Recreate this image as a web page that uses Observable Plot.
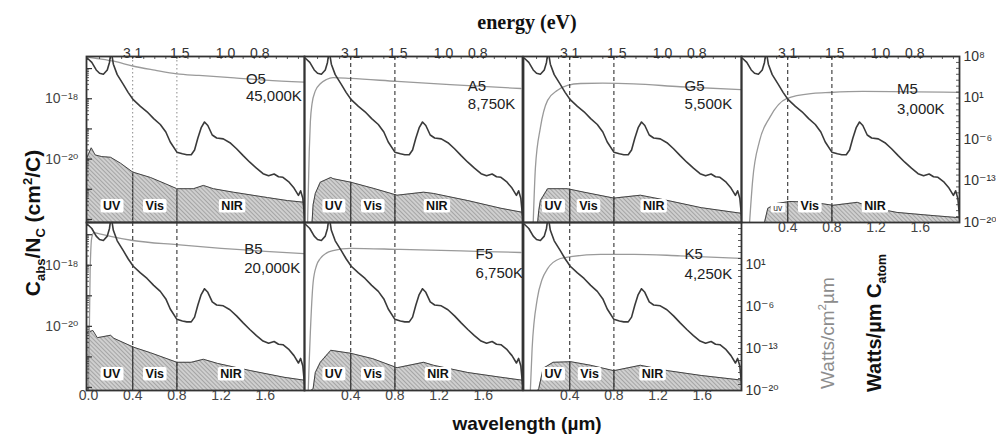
<!DOCTYPE html>
<html>
<head>
<meta charset="utf-8">
<script src="https://cdn.jsdelivr.net/npm/d3@7"></script>
<script src="https://cdn.jsdelivr.net/npm/@observablehq/plot@0.6"></script>
<style>
  body { margin: 0; background: #fff; }
  #chart { position: relative; width: 996px; height: 434px; overflow: hidden; background: #fff;
           font-family: "Liberation Sans", "DejaVu Sans", Arial, sans-serif; }
  .ttl { position: absolute; white-space: nowrap; transform: translate(-50%, -50%); line-height: 1; }
  .rot { transform: translate(-50%, -50%) rotate(-90deg); }
  .ttl sub, .ttl sup { font-size: 0.62em; line-height: 0; }
</style>
</head>
<body>
<div id="chart">
  <svg width="0" height="0" style="position:absolute">
    <defs>
      <pattern id="hatch" patternUnits="userSpaceOnUse" width="3" height="3" patternTransform="rotate(-45)">
        <rect width="3" height="3" fill="#cfcfcf"></rect>
        <line x1="0" y1="0" x2="0" y2="3" stroke="#7c7c7c" stroke-width="1"></line>
      </pattern>
    </defs>
  </svg>
</div>
<script>
// ---------------- data ----------------
// absorption cross section per carbon atom, C_abs/N_C (cm^2/C) vs wavelength (µm)
const crossSection = [
  [-0.01,2.2e-17],[0.03,1.6e-17],[0.07,9.0e-18],[0.10,7.0e-18],[0.135,6.5e-18],[0.17,9.0e-18],
  [0.19,1.6e-17],[0.205,4.0e-17],[0.225,1.4e-17],[0.26,6.3e-18],[0.315,3.0e-18],[0.36,1.6e-18],
  [0.405,9.3e-19],[0.47,5.6e-19],[0.53,3.7e-19],[0.59,2.2e-19],[0.65,1.4e-19],[0.70,7.9e-20],
  [0.74,3.7e-20],[0.80,1.7e-20],[0.85,1.5e-20],[0.89,1.4e-20],[0.93,1.4e-20],[0.96,2.0e-20],
  [0.99,5.0e-20],[1.02,1.1e-19],[1.05,1.7e-19],[1.08,1.3e-19],[1.12,6.3e-20],[1.16,5.0e-20],
  [1.22,4.7e-20],[1.28,3.5e-20],[1.34,2.2e-20],[1.40,1.3e-20],[1.46,7.9e-21],[1.52,5.0e-21],
  [1.58,3.3e-21],[1.63,2.8e-21],[1.68,3.2e-21],[1.72,2.6e-21],[1.76,2.5e-21],[1.81,1.8e-21],
  [1.86,1.1e-21],[1.90,6.3e-22],[1.92,8.9e-22],[1.94,5.0e-22],[1.955,1.3e-22]
];

// stellar spectra, Watts/cm^2 µm
const planckO5 = [[-0.02,8.0e7],[0.1,4.0e7],[0.23,1.6e7],[0.4,2.5e6],[0.6,5.0e5],[0.8,1.2e5],[1.0,6.3e4],[1.32,2.5e4],[1.6,1.0e4],[1.96,4.5e3]];
const planckB5 = [[0.0,1e-20],[0.015,1.0],[0.03,3.2e5],[0.05,2.0e6],[0.1,1.3e6],[0.2,5.0e5],[0.4,1.0e5],[0.8,2.0e4],[1.2,5.0e3],[1.6,1.6e3],[1.96,6.3e2]];
const planckA5 = [[0.01,1e-20],[0.025,1e-8],[0.035,1e-3],[0.05,1.0],[0.08,1.6e2],[0.125,2.5e3],[0.18,1.3e4],[0.24,2.8e4],[0.4,2.0e4],[0.82,6.3e3],[1.3,1.8e3],[1.94,4.0e2]];
const planckF5 = [[0.016,1e-20],[0.025,1e-15],[0.035,5e-11],[0.06,1e-2],[0.09,6.3],[0.125,1.0e2],[0.18,7.9e2],[0.24,2.0e3],[0.4,5.0e3],[0.85,3.2e3],[1.4,1.8e3],[1.94,1.0e3]];
const planckG5 = [[0.07,1e-20],[0.09,2e-11],[0.135,1e-4],[0.2,4.0],[0.29,2.0e2],[0.38,1.3e3],[0.5,2.8e3],[0.7,3.2e3],[0.98,2.5e3],[1.4,7.9e2],[1.95,2.5e2]];
const planckK5 = [[0.044,1e-20],[0.06,1e-13],[0.107,2e-5],[0.15,3.2e-2],[0.2,2.0],[0.315,1.0e2],[0.41,2.0e2],[0.68,5.0e2],[0.98,5.0e2],[1.4,2.8e2],[1.97,1.0e2]];
const planckM5 = [[0.055,1e-20],[0.083,1.3e-13],[0.146,6.3e-7],[0.237,5.0e-3],[0.39,7.9],[0.63,5.8e1],[0.78,8.5e1],[1.08,1.3e2],[1.96,8.5e1]];

// absorbed power per carbon atom, Watts/µm C_atom (hatched areas)
const areaO5 = [[-0.02,5.0e-10],[0.025,4.0e-8],[0.06,2.5e-9],[0.12,1.3e-9],[0.2,1.0e-9],[0.29,1.0e-10],[0.4,3.2e-12],[0.56,4.0e-13],[0.7,3.2e-14],[0.8,5.0e-15],[0.95,5.0e-15],[1.04,1.8e-14],[1.13,5.0e-15],[1.31,1.3e-15],[1.62,1.6e-16],[1.8,5.0e-17],[1.96,2.5e-17]];
const areaB5 = [[-0.01,5.0e-11],[0.04,1.0e-10],[0.08,6.3e-12],[0.2,1.6e-11],[0.23,5.0e-12],[0.41,1.6e-13],[0.56,2.0e-14],[0.8,5.0e-16],[0.93,5.0e-16],[1.04,1.6e-15],[1.17,3.2e-16],[1.47,2.0e-17],[1.77,1.6e-18],[1.96,5.0e-19]];
const areaA5 = [[0.05,1e-20],[0.06,1.0e-17],[0.08,7.9e-16],[0.125,6.3e-14],[0.22,4.0e-13],[0.24,2.5e-13],[0.4,6.3e-14],[0.61,5.5e-15],[0.82,4.0e-16],[1.06,1.3e-15],[1.15,7.9e-16],[1.46,5.0e-17],[1.76,2.5e-18],[1.96,5.0e-19]];
const areaF5 = [[0.04,1e-20],[0.06,2.0e-20],[0.08,1.0e-17],[0.125,5.0e-16],[0.22,5.0e-14],[0.4,1.6e-14],[0.6,2.0e-15],[0.82,6.3e-17],[1.06,5.0e-16],[1.15,1.6e-16],[1.46,1.0e-17],[1.76,1.6e-18],[1.96,5.0e-19]];
const areaG5 = [[0.11,1e-20],[0.12,1.0e-18],[0.135,5.0e-17],[0.2,5.0e-15],[0.38,5.0e-15],[0.53,1.3e-15],[0.8,1.3e-16],[1.04,4.0e-16],[1.29,5.0e-17],[1.59,3.2e-18],[1.97,3.2e-19]];
const areaK5 = [[0.11,1e-20],[0.12,2.0e-20],[0.16,5.0e-17],[0.25,5.0e-16],[0.41,6.3e-16],[0.59,1.6e-16],[0.8,2.0e-17],[1.04,1.6e-16],[1.29,2.0e-17],[1.59,3.2e-18],[1.97,5.0e-19]];
const areaM5 = [[0.19,1e-20],[0.22,2.5e-18],[0.3,1.6e-17],[0.42,3.5e-17],[0.63,2.5e-17],[0.81,7.9e-18],[1.03,2.5e-17],[1.17,3.2e-18],[1.39,5.0e-19],[1.69,1.6e-19],[1.96,6.3e-20]];

const starTypes = ["O5", "A5", "G5", "M5", "B5", "F5", "K5"];
const starTemps = ["45,000K", "8,750K", "5,500K", "3,000K", "20,000K", "6,750K", "4,250K"];
const regionNames = ["UV", "Vis", "NIR"];
const regionBounds = [0.4, 0.8];             // µm
const energyTicks = [3.1, 1.5, 1.0, 0.8];    // eV
const wavelengthTicks = [0.0, 0.4, 0.8, 1.2, 1.6];
const leftTicks = [1e-18, 1e-20];
const rightTicks = [1e8, 1e1, 1e-6, 1e-13, 1e-20];

// ---------------- layout ----------------
const FONT = '"Liberation Sans", "DejaVu Sans", Arial, sans-serif';
const TICK_FS = 14;
const W = 218;
const M = {top: 30, right: 60, bottom: 30, left: 60};
const colLeft = [86, 304, 523, 741];
const rowTop = [56, 222];
const rowH = [166, 168];
const xDomain = [-0.018, 1.955];
const csDomain = [Math.pow(10, -22.1), Math.pow(10, -16.6)];
const wDomain = [1e-20, 1e8];

const planck = {O5: planckO5, A5: planckA5, G5: planckG5, M5: planckM5, B5: planckB5, F5: planckF5, K5: planckK5};
const area = {O5: areaO5, A5: areaA5, G5: areaG5, M5: areaM5, B5: areaB5, F5: areaF5, K5: areaK5};
const layout = {
  O5: {row: 0, col: 0, lx: 1.425, ldy: [17, 34], rx: [0.21, 0.6, 1.3], dotted: true},
  A5: {row: 0, col: 1, lx: 1.46, ldy: [24, 42], rx: [0.245, 0.6, 1.18]},
  G5: {row: 0, col: 2, lx: 1.44, ldy: [24, 42], rx: [0.25, 0.57, 1.16]},
  M5: {row: 0, col: 3, lx: 1.39, ldy: [27, 47], rx: [0.31, 0.6, 1.19]},
  B5: {row: 1, col: 0, lx: 1.41, ldy: [21, 40], rx: [0.21, 0.6, 1.29]},
  F5: {row: 1, col: 1, lx: 1.53, ldy: [26, 45], rx: [0.245, 0.6, 1.19]},
  K5: {row: 1, col: 2, lx: 1.44, ldy: [26, 46], rx: [0.25, 0.58, 1.15]}
};

const SUP = {"-": "\u207B", "0": "\u2070", "1": "\u00B9", "2": "\u00B2", "3": "\u00B3", "4": "\u2074",
             "5": "\u2075", "6": "\u2076", "7": "\u2077", "8": "\u2078", "9": "\u2079"};
const pow10 = v => "10" + String(Math.round(Math.log10(v))).split("").map(c => SUP[c]).join("");

function topAt(arr, x) {
  const i = d3.bisector(d => d[0]).left(arr, x);
  const a = arr[Math.max(0, i - 1)], b = arr[Math.min(arr.length - 1, i)];
  if (a === b) return a[1];
  const t = (x - a[0]) / (b[0] - a[0]);
  return Math.exp(Math.log(a[1]) * (1 - t) + Math.log(b[1]) * t);
}

const chart = document.getElementById("chart");

function makePlot(L, yDomain, marks) {
  const svg = Plot.plot({
    width: W + M.left + M.right,
    height: rowH[L.row] + M.top + M.bottom,
    marginTop: M.top, marginRight: M.right, marginBottom: M.bottom, marginLeft: M.left,
    x: {domain: xDomain, axis: null},
    y: {type: "log", domain: yDomain, axis: null},
    style: {background: "transparent", overflow: "visible", fontFamily: FONT, fontSize: "12px", color: "#222"},
    marks
  });
  svg.style.position = "absolute";
  svg.style.left = (colLeft[L.col] - M.left) + "px";
  svg.style.top = (rowTop[L.row] - M.top) + "px";
  svg.style.maxWidth = "none";
  chart.appendChild(svg);
  return svg;
}

const leftMinor = d3.scaleLog().domain(csDomain).ticks();
const leftMajor = leftMinor.filter(v => Math.abs(Math.log10(v) - Math.round(Math.log10(v))) < 1e-9);
const rightDecades = d3.range(-20, 9).map(e => Math.pow(10, e));
const topMinor = d3.range(1, 20).map(i => i / 10);

starTypes.forEach((id, k) => {
  const L = layout[id];
  const H = rowH[L.row];
  const P = planck[id], A = area[id];

  // layer 1: right-axis quantities (spectrum and absorbed power)
  const wMarks = [
    Plot.areaY(A, {x: d => d[0], y1: 1e-20, y2: d => d[1], fill: "url(#hatch)", clip: true}),
    Plot.line(A, {x: d => d[0], y: d => d[1], stroke: "#444", strokeWidth: 1, clip: true}),
    Plot.ruleX(regionBounds, {x: d => d, y1: 1e-20, y2: d => topAt(A, d), stroke: "#333", strokeWidth: 1.2}),
    Plot.line(P, {x: d => d[0], y: d => d[1], stroke: "#9a9a9a", strokeWidth: 1.3, curve: "monotone-x", clip: true}),
    Plot.text([id], {x: L.lx, frameAnchor: "top", dy: L.ldy[0], text: d => d, textAnchor: "start", fontSize: 15, fill: "#222"}),
    Plot.text([starTemps[k]], {x: L.lx, frameAnchor: "top", dy: L.ldy[1], text: d => d, textAnchor: "start", fontSize: 15, fill: "#222"})
  ];
  const showRight = id === "M5" || id === "K5";
  if (showRight) {
    const rt = id === "K5" ? rightTicks.slice(1) : rightTicks;
    wMarks.push(Plot.tickY(rightDecades, {y: d => d, insetLeft: W - 3, stroke: "#333", strokeWidth: 0.8}));
    wMarks.push(Plot.text(rt, {y: d => d, frameAnchor: "right", dx: 4, textAnchor: "start", text: pow10, fontSize: TICK_FS, fill: "#333"}));
  }
  makePlot(L, wDomain, wMarks);

  // layer 2: region labels with white boxes
  const labels = regionNames.map((n, i) => ({name: (id === "M5" && i === 0) ? "uv" : n, x: L.rx[i], small: id === "M5" && i === 0}));
  const labSvg = makePlot(L, wDomain, [
    Plot.text(labels.filter(d => !d.small), {x: "x", text: "name", frameAnchor: "bottom", dy: -13, fontSize: 12.5, fontWeight: "bold", fill: "#111"}),
    Plot.text(labels.filter(d => d.small), {x: "x", text: "name", frameAnchor: "bottom", dy: -12, fontSize: 8.5, fill: "#333"})
  ]);
  labSvg.querySelectorAll("text").forEach(t => {
    const b = t.getBBox();
    const r = document.createElementNS("http://www.w3.org/2000/svg", "rect");
    r.setAttribute("x", b.x - 2.5);
    r.setAttribute("y", b.y + 0.5);
    r.setAttribute("width", b.width + 5);
    r.setAttribute("height", b.height - 0.5);
    r.setAttribute("rx", 2);
    r.setAttribute("fill", "white");
    if (t.getAttribute("transform")) r.setAttribute("transform", t.getAttribute("transform"));
    t.parentNode.insertBefore(r, t);
  });

  // layer 3: cross section, dashed guides, frame, axes
  const cMarks = [
    Plot.ruleX(regionBounds, L.dotted
      ? {x: d => d, stroke: "#8a8a8a", strokeWidth: 1, strokeDasharray: "1.5,2.5"}
      : {x: d => d, stroke: "#444", strokeWidth: 1.2, strokeDasharray: "4,3"}),
    Plot.line(crossSection, {x: d => d[0], y: d => d[1], stroke: "#3a3a3a", strokeWidth: 1.6, clip: true})
  ];
  if (L.col === 0) {
    cMarks.push(Plot.tickY(leftMinor, {y: d => d, insetRight: W - 3, stroke: "#333", strokeWidth: 0.8}));
    cMarks.push(Plot.tickY(leftMajor, {y: d => d, insetRight: W - 6, stroke: "#333", strokeWidth: 1.2}));
    cMarks.push(Plot.text(leftTicks, {y: d => d, frameAnchor: "left", dx: -8, textAnchor: "end", text: pow10, fontSize: TICK_FS, fill: "#444"}));
  }
  if (L.row === 0) {
    cMarks.push(Plot.tickX(topMinor, {x: d => d, insetBottom: H - 3, stroke: "#333", strokeWidth: 0.8}));
    cMarks.push(Plot.text(energyTicks, {x: e => 1.2398 / e, text: e => e.toFixed(1), frameAnchor: "top", dy: -8, fontSize: TICK_FS, fill: "#333"}));
  }
  if (L.row === 1 || id === "M5") {
    const wt = L.col === 0 ? wavelengthTicks : wavelengthTicks.slice(1);
    cMarks.push(Plot.text(wt, {x: d => d, text: d => d.toFixed(1), frameAnchor: "bottom", dy: 9, fontSize: TICK_FS, fill: "#444"}));
  }
  cMarks.push(Plot.frame({stroke: "#333", strokeWidth: 1.8}));
  makePlot(L, csDomain, cMarks);
});

// ---------------- titles ----------------
function addTitle(html, x, y, css, rotate) {
  const d = document.createElement("div");
  d.className = "ttl" + (rotate ? " rot" : "");
  d.innerHTML = html;
  d.style.left = x + "px";
  d.style.top = y + "px";
  Object.assign(d.style, css);
  chart.appendChild(d);
}
addTitle("energy (eV)", 527, 22, {fontFamily: '"Liberation Serif", "DejaVu Serif", serif', fontWeight: "bold", fontSize: "20px", color: "#111"});
addTitle("wavelength (\u00B5m)", 527, 423, {fontWeight: "bold", fontSize: "19px", color: "#111"});
addTitle("C<sub>abs</sub>/N<sub>C</sub> (cm<sup>2</sup>/C)", 32, 223, {fontWeight: "bold", fontSize: "21px", color: "#111"}, true);
addTitle("Watts/cm<sup>2</sup>\u00B5m", 827, 333, {fontSize: "19px", color: "#8c8c8c"}, true);
addTitle("Watts/\u00B5m C<sub>atom</sub>", 874, 323, {fontWeight: "bold", fontSize: "20px", color: "#111"}, true);
</script>
</body>
</html>
